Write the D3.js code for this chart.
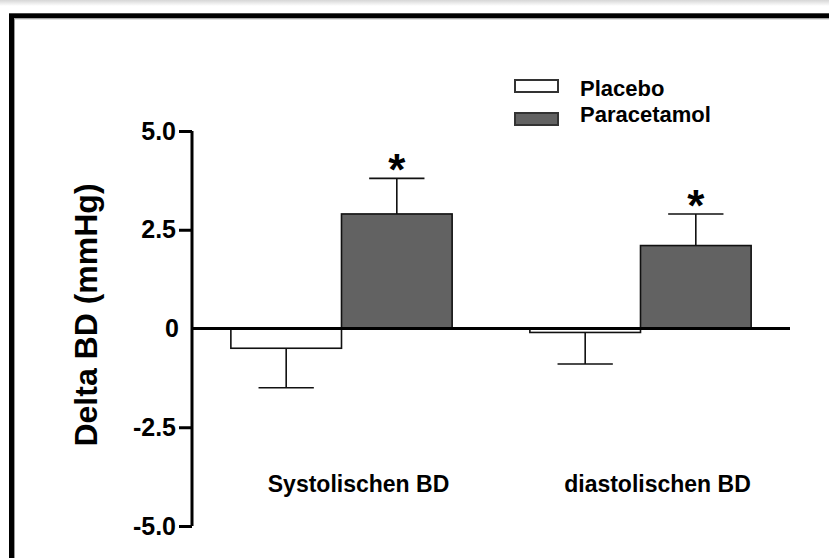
<!DOCTYPE html>
<html>
<head>
<meta charset="utf-8">
<script src="https://cdn.jsdelivr.net/npm/d3@7"></script>
<style>
  body { margin: 0; background: #fff; }
  text { font-family: 'Liberation Sans', Arial, sans-serif; font-weight: bold; fill: #000; }
</style>
</head>
<body>
<div id="chart"></div>
<script>
// data
const categories = ['Systolischen BD', 'diastolischen BD'];
const series = ['Placebo', 'Paracetamol'];
const placeboValues = [-0.5, -0.1];
const placeboErrors = [1.0, 0.8];
const paracetamolValues = [2.9, 2.1];
const paracetamolErrors = [0.9, 0.8];
const significant = [true, true];
const yTicks = [-5.0, -2.5, 0, 2.5, 5.0];
const yTickLabels = ['-5.0', '-2.5', '0', '2.5', '5.0'];
const yTitle = 'Delta BD (mmHg)';

const width = 829, height = 558;
const colors = { Placebo: '#ffffff', Paracetamol: '#626262' };

const svg = d3.select('#chart')
  .append('svg')
  .attr('width', width)
  .attr('height', height);

// top gray strip + frame
const grad = svg.append('defs').append('linearGradient')
  .attr('id', 'topFade').attr('x1', 0).attr('y1', 0).attr('x2', 0).attr('y2', 1);
grad.append('stop').attr('offset', '0%').attr('stop-color', '#d6d6d6');
grad.append('stop').attr('offset', '100%').attr('stop-color', '#ffffff');
svg.append('rect').attr('x', 0).attr('y', 0).attr('width', width).attr('height', 6)
  .attr('fill', 'url(#topFade)');
svg.append('rect')
  .attr('x', 11.5).attr('y', 15.8).attr('width', 1000).attr('height', 800)
  .attr('fill', 'none').attr('stroke', '#000').attr('stroke-width', 5);
svg.append('rect')
  .attr('x', 14.5).attr('y', 18.8).attr('width', 1000).attr('height', 800)
  .attr('fill', 'none').attr('stroke', '#9a9a9a').attr('stroke-width', 1);

// scales
const y = d3.scaleLinear().domain([-5, 5]).range([526, 131]);
const x0 = d3.scaleBand().domain(categories).range([192, 790])
  .paddingInner(0.26).paddingOuter(0.13);
const x1 = d3.scaleBand().domain(series).range([0, x0.bandwidth()]);

const rows = categories.map((c, i) => ({
  category: c,
  bars: [
    { key: 'Placebo', value: placeboValues[i], err: placeboErrors[i] },
    { key: 'Paracetamol', value: paracetamolValues[i], err: paracetamolErrors[i] },
  ],
  star: significant[i],
}));

// y axis
const yAxis = d3.axisLeft(y)
  .tickValues(yTicks)
  .tickFormat((d, i) => yTickLabels[i])
  .tickSize(13)
  .tickPadding(3);
const gy = svg.append('g')
  .attr('transform', 'translate(192,0)')
  .call(yAxis);
gy.select('.domain').attr('stroke-width', 3).attr('d', 'M0,' + y(5) + 'V' + y(-5));
gy.selectAll('.tick line').attr('stroke-width', 3)
  .attr('display', d => d === 0 ? 'none' : null);
gy.selectAll('.tick text')
  .style('font-size', '25px')
  .attr('x', d => d === 0 ? -13 : -16);

// bars
const groups = svg.selectAll('.group')
  .data(rows)
  .enter().append('g')
  .attr('class', 'group')
  .attr('transform', d => 'translate(' + x0(d.category) + ',0)');

groups.selectAll('rect')
  .data(d => d.bars)
  .enter().append('rect')
  .attr('x', d => x1(d.key))
  .attr('y', d => y(Math.max(0, d.value)))
  .attr('width', x1.bandwidth())
  .attr('height', d => Math.abs(y(d.value) - y(0)))
  .attr('fill', d => colors[d.key])
  .attr('stroke', '#111')
  .attr('stroke-width', 1.6);

// error bars (one sided, away from zero)
const capW = x1.bandwidth() * 0.5;
groups.selectAll('.err')
  .data(d => d.bars)
  .enter().append('path')
  .attr('class', 'err')
  .attr('fill', 'none')
  .attr('stroke', '#111')
  .attr('stroke-width', 1.6)
  .attr('d', d => {
    const cx = x1(d.key) + x1.bandwidth() / 2;
    const end = d.value < 0 ? d.value - d.err : d.value + d.err;
    return 'M' + cx + ',' + y(d.value) + 'V' + y(end) +
      'M' + (cx - capW / 2) + ',' + y(end) + 'H' + (cx + capW / 2);
  });

// asterisks
groups.filter(d => d.star).append('text')
  .attr('x', x1('Paracetamol') + x1.bandwidth() / 2)
  .attr('y', d => y(d.bars[1].value + d.bars[1].err) + 7)
  .attr('text-anchor', 'middle')
  .style('font-size', '44px')
  .text('*');

// zero line
svg.append('line')
  .attr('x1', 192).attr('x2', 790)
  .attr('y1', y(0)).attr('y2', y(0))
  .attr('stroke', '#000').attr('stroke-width', 3);

// category labels
svg.selectAll('.cat')
  .data(categories)
  .enter().append('text')
  .attr('class', 'cat')
  .attr('x', d => x0(d) + x0.bandwidth() / 2 + 17)
  .attr('y', 492)
  .attr('text-anchor', 'middle')
  .style('font-size', '23px')
  .text(d => d);

// y title
svg.append('text')
  .attr('transform', 'translate(97,315) rotate(-90)')
  .attr('text-anchor', 'middle')
  .style('font-size', '32px')
  .text(yTitle);

// legend
const legend = svg.selectAll('.legend')
  .data(series)
  .enter().append('g')
  .attr('class', 'legend');
legend.append('rect')
  .attr('x', 515)
  .attr('y', (d, i) => 80 + i * 33)
  .attr('width', 43)
  .attr('height', 12)
  .attr('fill', d => colors[d])
  .attr('stroke', '#333')
  .attr('stroke-width', 2);
legend.append('text')
  .attr('x', 580)
  .attr('y', (d, i) => 96 + i * 26)
  .style('font-size', '22px')
  .text(d => d);
</script>
</body>
</html>
